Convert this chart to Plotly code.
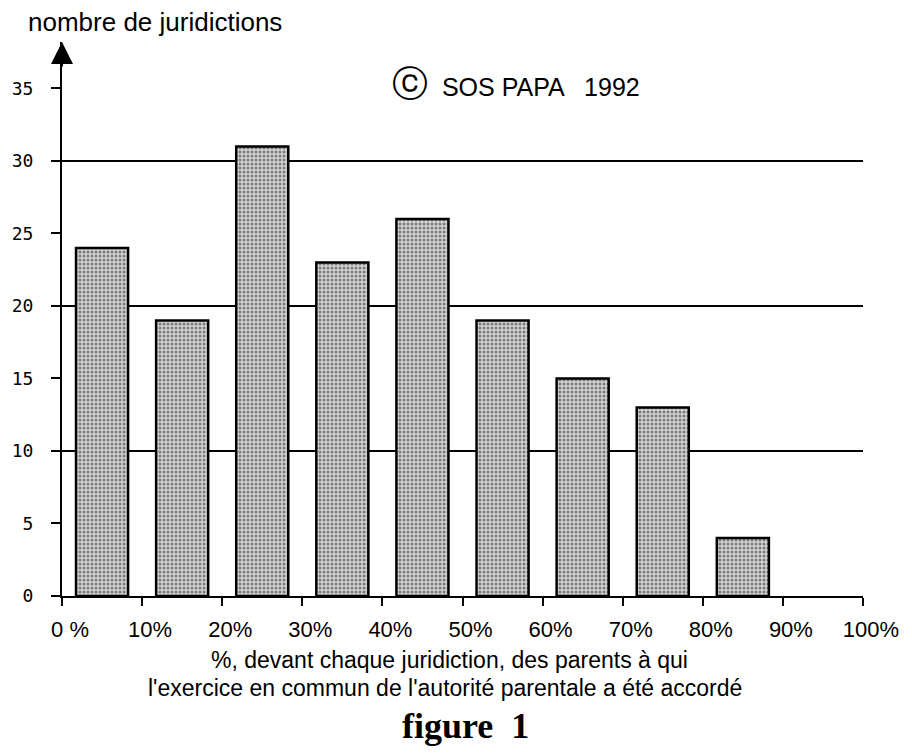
import plotly.graph_objects as go

# data
bin_centers = [5, 15, 25, 35, 45, 55, 65, 75, 85]
counts = [24, 19, 31, 23, 26, 19, 15, 13, 4]
x_tickvals = [0, 10, 20, 30, 40, 50, 60, 70, 80, 90, 100]
x_ticktext = ['0 %', '10%', '20%', '30%', '40%', '50%', '60%', '70%', '80%', '90%', '100%']
y_tickvals = [0, 5, 10, 15, 20, 25, 30, 35]
grid_vals = [10, 20, 30]

# the page puts the figure 8px in from the top-left corner, so the margins
# are set to land the plot area where the reference has it on screen
PLOT_L, PLOT_R, PLOT_T, PLOT_B = 62, 863, 42, 596


def px(x):
    # screen pixel -> paper x
    return (x - PLOT_L) / (PLOT_R - PLOT_L)


def py(y):
    # screen pixel -> paper y
    return (PLOT_B - y) / (PLOT_B - PLOT_T)


fig = go.Figure()
fig.add_trace(go.Bar(
    x=bin_centers, y=counts, width=6.5,
    marker=dict(
        color='#b8b8b8',
        line=dict(color='black', width=2.5),
        pattern=dict(shape='.', fgcolor='#222222', bgcolor='#d4d4d4', size=4, solidity=0.45)),
    hoverinfo='x+y'))

fig.update_layout(
    width=912, height=753,
    margin=dict(l=PLOT_L - 8, r=912 - (PLOT_R - 8), t=PLOT_T - 8, b=753 - (PLOT_B - 8), autoexpand=False),
    plot_bgcolor='white', paper_bgcolor='white',
    showlegend=False,
    font=dict(family='Liberation Sans, Arial', color='black'),
    xaxis=dict(
        range=[0, 100], tickvals=x_tickvals, ticktext=x_ticktext,
        showline=True, linecolor='black', linewidth=2,
        ticks='outside', ticklen=8, tickwidth=2, tickcolor='black',
        showgrid=False, zeroline=False, automargin=False,
        ticklabelshift=8, ticklabelstandoff=5,
        tickfont=dict(size=22, family='Liberation Sans, Arial')),
    yaxis=dict(
        range=[0, 38.2], tickvals=y_tickvals,
        showline=True, linecolor='black', linewidth=2,
        ticks='outside', ticklen=9, tickwidth=2, tickcolor='black',
        showgrid=False, zeroline=False, automargin=False,
        ticklabelstandoff=14,
        tickfont=dict(size=18, family='DejaVu Sans Mono'),
        minor=dict(tickvals=grid_vals, showgrid=True, gridcolor='black', gridwidth=1.5, ticks='')),
)

# arrow at the top of the y axis
fig.add_annotation(x=0, y=1, xref='paper', yref='paper', ax=0, ay=26,
                   text='', showarrow=True, arrowhead=2, arrowsize=2.2, arrowwidth=2, arrowcolor='black')

fig.add_annotation(x=px(26), y=py(22), xref='paper', yref='paper', xanchor='left', yanchor='middle',
                   text='nombre de juridictions', showarrow=False, font=dict(size=26))
fig.add_annotation(x=px(516), y=py(83), xref='paper', yref='paper', xanchor='center', yanchor='middle',
                   text='<span style="font-size:36px">ⓒ</span>  SOS PAPA   1992', showarrow=False,
                   font=dict(size=25))
fig.add_annotation(x=px(449), y=py(660), xref='paper', yref='paper', xanchor='center', yanchor='middle',
                   text='%, devant chaque juridiction, des parents à qui',
                   showarrow=False, font=dict(size=23))
fig.add_annotation(x=px(445), y=py(688), xref='paper', yref='paper', xanchor='center', yanchor='middle',
                   text="l'exercice en commun de l'autorité parentale a été accordé",
                   showarrow=False, font=dict(size=23))
fig.add_annotation(x=px(465), y=py(726), xref='paper', yref='paper', xanchor='center', yanchor='middle',
                   text='<b>figure  1</b>', showarrow=False, font=dict(size=36, family='Liberation Serif'))

fig.write_html("out.html")
